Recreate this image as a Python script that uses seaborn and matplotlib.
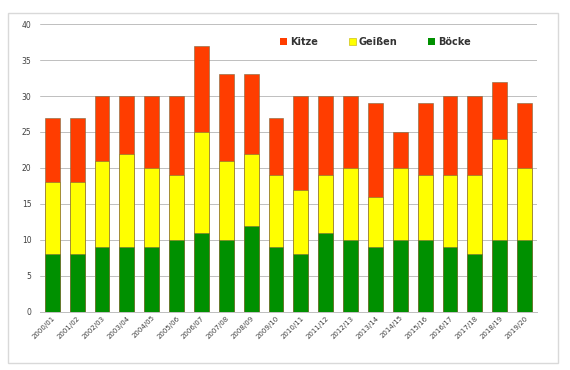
import matplotlib
matplotlib.use("Agg")
import matplotlib.pyplot as plt
import seaborn as sns
import numpy as np
import pandas as pd
from matplotlib.patches import Rectangle, Patch

seasons = ["2000/01", "2001/02", "2002/03", "2003/04", "2004/05", "2005/06", "2006/07",
           "2007/08", "2008/09", "2009/10", "2010/11", "2011/12", "2012/13", "2013/14",
           "2014/15", "2015/16", "2016/17", "2017/18", "2018/19", "2019/20"]
boecke = [8, 8, 9, 9, 9, 10, 11, 10, 12, 9, 8, 11, 10, 9, 10, 10, 9, 8, 10, 10]
geissen = [10, 10, 12, 13, 11, 9, 14, 11, 10, 10, 9, 8, 10, 7, 10, 9, 10, 11, 14, 10]
kitze = [9, 9, 9, 8, 10, 11, 12, 12, 11, 8, 13, 11, 10, 13, 5, 10, 11, 11, 8, 9]

c_red = "#FF3D00"
c_yellow = "#FFFF00"
c_green = "#009000"

df = pd.DataFrame({"Saison": seasons, "Böcke": boecke, "Geißen": geissen, "Kitze": kitze})
df["mid"] = df["Böcke"] + df["Geißen"]
df["total"] = df["mid"] + df["Kitze"]

sns.set_style("white")
fig = plt.figure(figsize=(5.7, 3.7), dpi=100)
ax = fig.add_axes([0.070, 0.157, 0.872, 0.778])

# outer frame
fig.patches.append(Rectangle((8/570, 1 - 363/370), 550/570, 350/370, transform=fig.transFigure,
                             fill=False, edgecolor="#D9D9D9", linewidth=1.0))

kw = dict(width=0.6, edgecolor="#7a6a40", linewidth=0.4, ax=ax, zorder=3)
sns.barplot(data=df, x="Saison", y="total", color=c_red, saturation=1, **kw)
sns.barplot(data=df, x="Saison", y="mid", color=c_yellow, saturation=1, **kw)
sns.barplot(data=df, x="Saison", y="Böcke", color=c_green, saturation=1, **kw)

ax.set_ylim(0, 40)
ax.set_xlim(-0.5, len(seasons) - 0.5)
ax.set_yticks(np.arange(0, 41, 5))
ax.yaxis.grid(True, color="#BFBFBF", linewidth=0.7, zorder=0)
ax.set_axisbelow(True)
ax.set_xlabel("")
ax.set_ylabel("")
for s in ["top", "right", "left"]:
    ax.spines[s].set_visible(False)
ax.spines["bottom"].set_color("#BFBFBF")
ax.spines["bottom"].set_linewidth(0.7)
ax.tick_params(axis="y", labelsize=5.5, length=0, pad=6, colors="#404040")
ax.tick_params(axis="x", labelsize=5, length=0, pad=2, colors="#404040")
plt.setp(ax.get_xticklabels(), rotation=45, ha="right", rotation_mode="anchor")

handles = [Patch(facecolor=c_red, edgecolor="none"),
           Patch(facecolor=c_yellow, edgecolor="#c0b000", linewidth=0.4),
           Patch(facecolor=c_green, edgecolor="none")]
leg = ax.legend(handles, ["Kitze", "Geißen", "Böcke"], ncol=3, loc="upper center",
                bbox_to_anchor=(0.675, 0.985), frameon=False, fontsize=7,
                handlelength=0.7, handleheight=0.7, handletextpad=0.3, columnspacing=3.2)
for t in leg.get_texts():
    t.set_fontweight("bold")
    t.set_color("#333333")

fig.savefig("out.png", dpi=100)
